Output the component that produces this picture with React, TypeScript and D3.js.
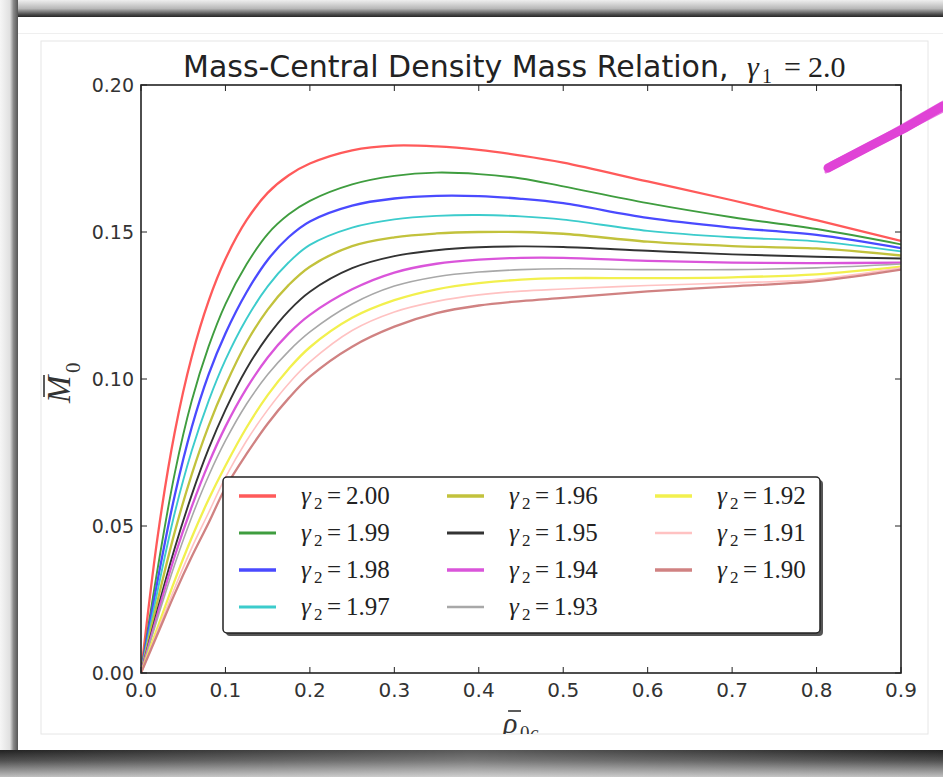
import React from "react";
import * as d3 from "d3";

// x values (rho_0c)
const rho = [0, 0.02, 0.04, 0.06, 0.08, 0.1, 0.125, 0.15, 0.175, 0.2, 0.25, 0.3, 0.35, 0.4, 0.45, 0.5, 0.6, 0.7, 0.8, 0.9];

const gamma2Labels = ["2.00", "1.99", "1.98", "1.97", "1.96", "1.95", "1.94", "1.93", "1.92", "1.91", "1.90"];

const m200 = [0, 0.047, 0.082, 0.1075, 0.1265, 0.1408, 0.154, 0.1633, 0.1693, 0.1733, 0.1778, 0.1794, 0.1791, 0.1779, 0.176, 0.1736, 0.1672, 0.1608, 0.154, 0.147];
const m199 = [0, 0.036, 0.068, 0.0925, 0.111, 0.1255, 0.139, 0.1493, 0.156, 0.1606, 0.1662, 0.1691, 0.1702, 0.1697, 0.1682, 0.1655, 0.1598, 0.155, 0.151, 0.1458];
const m198 = [0, 0.032, 0.0605, 0.0835, 0.1015, 0.1155, 0.1295, 0.1405, 0.1483, 0.1536, 0.159, 0.1614, 0.1623, 0.1622, 0.1613, 0.1598, 0.1548, 0.1515, 0.149, 0.1445];
const m197 = [0, 0.0285, 0.0545, 0.0755, 0.0925, 0.1065, 0.1205, 0.1315, 0.1397, 0.1456, 0.1515, 0.1543, 0.1555, 0.1558, 0.1553, 0.1542, 0.1504, 0.1482, 0.1468, 0.1434];
const m196 = [0, 0.025, 0.048, 0.0675, 0.084, 0.0978, 0.1124, 0.1236, 0.132, 0.1382, 0.1452, 0.1482, 0.1495, 0.15, 0.15, 0.1494, 0.1467, 0.1452, 0.1444, 0.142];
const m195 = [0, 0.022, 0.0425, 0.0605, 0.0762, 0.0895, 0.1035, 0.1145, 0.1232, 0.1297, 0.1377, 0.1418, 0.1438, 0.1448, 0.1451, 0.1449, 0.1436, 0.1424, 0.1416, 0.141];
const m194 = [0, 0.0205, 0.0398, 0.0565, 0.0712, 0.0838, 0.0968, 0.1073, 0.1155, 0.1218, 0.1305, 0.1362, 0.1392, 0.1406, 0.1412, 0.1412, 0.1402, 0.1396, 0.1394, 0.1396];
const m193 = [0, 0.019, 0.037, 0.053, 0.067, 0.079, 0.0915, 0.1015, 0.1095, 0.116, 0.1255, 0.1316, 0.1348, 0.1364, 0.1372, 0.1375, 0.1372, 0.1372, 0.1378, 0.1391];
const m192 = [0, 0.0158, 0.0315, 0.046, 0.059, 0.0705, 0.0835, 0.0945, 0.1035, 0.1108, 0.1208, 0.1268, 0.1305, 0.1326, 0.1338, 0.1343, 0.1343, 0.1346, 0.1356, 0.1382];
const m191 = [0, 0.0145, 0.029, 0.0425, 0.0545, 0.0665, 0.079, 0.0895, 0.0985, 0.1058, 0.1165, 0.1228, 0.1264, 0.1286, 0.1299, 0.1306, 0.1318, 0.1327, 0.1339, 0.1378];
const m190 = [0, 0.0135, 0.027, 0.0395, 0.051, 0.063, 0.0745, 0.0848, 0.0935, 0.1008, 0.111, 0.1178, 0.1224, 0.125, 0.1265, 0.1276, 0.1298, 0.1315, 0.1333, 0.1372];

const seriesValues = [m200, m199, m198, m197, m196, m195, m194, m193, m192, m191, m190];
const seriesColors = ["#ff5a5a", "#3f9d3f", "#4a4aff", "#3ccccc", "#c2c23c", "#333333", "#da55da", "#a8a8a8", "#f2f04e", "#ffc2c2", "#d08282"];
const seriesWidths = [2.3, 1.9, 2.3, 1.9, 2.3, 1.9, 2.3, 1.6, 2.3, 1.6, 2.3];

const xTicks = [0, 0.1, 0.2, 0.3, 0.4, 0.5, 0.6, 0.7, 0.8, 0.9];
const xTickLabels = ["0.0", "0.1", "0.2", "0.3", "0.4", "0.5", "0.6", "0.7", "0.8", "0.9"];
const yTicks = [0, 0.05, 0.1, 0.15, 0.2];
const yTickLabels = ["0.00", "0.05", "0.10", "0.15", "0.20"];

const SANS = "'DejaVu Sans', sans-serif";
const SERIF = "'Liberation Serif', 'DejaVu Serif', serif";

export default function App() {
  const W = 943;
  const H = 777;
  const left = 141, right = 901, top = 85, bottom = 673;
  const x = d3.scaleLinear().domain([0, 0.9]).range([left, right]);
  const y = d3.scaleLinear().domain([0, 0.2]).range([bottom, top]);
  const line = d3
    .line<number>()
    .x((_, i) => x(rho[i]))
    .y((d) => y(d))
    .curve(d3.curveCatmullRom.alpha(0.5));

  // legend layout
  const legX = 223, legY = 477, legW = 597, legH = 156;
  const colX = [239, 447, 655];
  const rowY0 = 496, rowStep = 37;

  return (
    <svg
      width={W}
      height={H}
      style={{ position: "absolute", left: 0, top: 0, display: "block" }}
      xmlns="http://www.w3.org/2000/svg"
    >
      <defs>
        <linearGradient id="topGrad" x1="0" y1="0" x2="0" y2="1">
          <stop offset="0%" stopColor="#eeeeee" />
          <stop offset="50%" stopColor="#b8b8b8" />
          <stop offset="85%" stopColor="#4a4a4a" />
          <stop offset="100%" stopColor="#262626" />
        </linearGradient>
        <linearGradient id="leftGrad" x1="0" y1="0" x2="1" y2="0">
          <stop offset="0%" stopColor="#f6f6f6" />
          <stop offset="55%" stopColor="#e0e0e0" />
          <stop offset="75%" stopColor="#8a8a8a" />
          <stop offset="100%" stopColor="#555" />
        </linearGradient>
        <linearGradient id="botGrad" x1="0" y1="0" x2="0" y2="1">
          <stop offset="0%" stopColor="#222" />
          <stop offset="40%" stopColor="#505050" />
          <stop offset="100%" stopColor="#c0c0c0" />
        </linearGradient>
        <linearGradient id="botHi" x1="0" y1="0" x2="1" y2="0">
          <stop offset="0%" stopColor="#fff" stopOpacity="0" />
          <stop offset="50%" stopColor="#fff" stopOpacity="0.25" />
          <stop offset="100%" stopColor="#fff" stopOpacity="0" />
        </linearGradient>
        <clipPath id="plotClip">
          <rect x={left} y={top} width={right - left} height={bottom - top} />
        </clipPath>
        <clipPath id="figClip">
          <rect x={41} y={41} width={887} height={693} />
        </clipPath>
      </defs>

      {/* photo frame */}
      <rect x={0} y={0} width={W} height={H} fill="#fff" />
      <rect x={0} y={0} width={W} height={17} fill="url(#topGrad)" />
      <rect x={0} y={0} width={18} height={H} fill="url(#leftGrad)" />
      <rect x={0} y={750} width={W} height={27} fill="url(#botGrad)" />
      <rect x={0} y={750} width={W} height={27} fill="url(#botHi)" />
      <rect x={18} y={17} width={W - 18} height={733} fill="#fff" />
      <line x1={18} x2={W} y1={33.5} y2={33.5} stroke="#efefef" strokeWidth={1} />
      <rect x={41} y={41} width={887} height={693} fill="none" stroke="#e6e6e6" strokeWidth={1} />

      <g clipPath="url(#figClip)">
        {/* title */}
        <text x={183} y={77} fontFamily={SANS} fontSize={30} fill="#222">
          Mass-Central Density Mass Relation,
        </text>
        <text y={77} fontFamily={SERIF} fontSize={30} fill="#222">
          <tspan x={747} fontStyle="italic">γ</tspan>
          <tspan x={762} dy={6} fontSize={20}>1</tspan>
          <tspan x={784} dy={-6}>=</tspan>
          <tspan x={808}>2.0</tspan>
        </text>

        {/* curves */}
        <g clipPath="url(#plotClip)">
          {seriesValues.map((vals, i) => (
            <path
              key={i}
              d={line(vals) || ""}
              fill="none"
              stroke={seriesColors[i]}
              strokeWidth={seriesWidths[i]}
              strokeLinejoin="round"
            />
          ))}
        </g>

        {/* axes frame */}
        <rect x={left} y={top} width={right - left} height={bottom - top} fill="none" stroke="#222" strokeWidth={1.6} />

        {/* x ticks */}
        {xTicks.map((t, i) => (
          <g key={"xt" + i}>
            <line x1={x(t)} x2={x(t)} y1={bottom} y2={bottom - 6} stroke="#222" strokeWidth={1} />
            <line x1={x(t)} x2={x(t)} y1={top} y2={top + 6} stroke="#222" strokeWidth={1} />
            <text x={x(t)} y={697} textAnchor="middle" fontFamily={SANS} fontSize={20} fill="#333">
              {xTickLabels[i]}
            </text>
          </g>
        ))}
        {/* y ticks */}
        {yTicks.map((t, i) => (
          <g key={"yt" + i}>
            <line x1={left} x2={left + 6} y1={y(t)} y2={y(t)} stroke="#222" strokeWidth={1} />
            <line x1={right} x2={right - 6} y1={y(t)} y2={y(t)} stroke="#222" strokeWidth={1} />
            <text x={134} y={y(t) + 7} textAnchor="end" fontFamily={SANS} fontSize={19} fill="#333">
              {yTickLabels[i]}
            </text>
          </g>
        ))}

        {/* y label */}
        <g transform="translate(60,383) rotate(-90)" fill="#333" fontFamily={SERIF}>
          <text x={-20} y={10} fontSize={33} fontStyle="italic">M</text>
          <line x1={-14} x2={8} y1={-16} y2={-16} stroke="#333" strokeWidth={1.6} />
          <text x={10} y={20} fontSize={21}>0</text>
        </g>

        {/* x label */}
        <g fill="#333" fontFamily={SERIF}>
          <text x={503} y={733} fontSize={30} fontStyle="italic">ρ</text>
          <line x1={508} x2={521} y1={711} y2={711} stroke="#333" strokeWidth={1.6} />
          <text x={520} y={739} fontSize={19}>0</text>
          <text x={530} y={739} fontSize={19} fontStyle="italic">c</text>
        </g>

        {/* legend */}
        <rect x={legX + 3} y={legY + 3} width={legW} height={legH} rx={4} fill="#555" />
        <rect x={legX} y={legY} width={legW} height={legH} rx={4} fill="#fff" stroke="#222" strokeWidth={1.5} />
        {gamma2Labels.map((lab, i) => {
          const col = Math.floor(i / 4);
          const row = i % 4;
          const lx = colX[col];
          const ly = rowY0 + row * rowStep;
          const tx = lx + 62;
          return (
            <g key={"lg" + i}>
              <line
                x1={lx}
                x2={lx + 37}
                y1={ly}
                y2={ly}
                stroke={seriesColors[i]}
                strokeWidth={seriesWidths[i] + 1}
              />
              <text y={ly + 8} fontFamily={SERIF} fontSize={25} fill="#222">
                <tspan x={tx} fontStyle="italic">γ</tspan>
                <tspan x={tx + 13} dy={5} fontSize={17}>2</tspan>
                <tspan x={tx + 26} dy={-5}>=</tspan>
                <tspan x={tx + 45}>{lab}</tspan>
              </text>
            </g>
          );
        })}
      </g>

      {/* pink marker stroke */}
      <g stroke="#e043d6" strokeLinecap="round" fill="none">
        <path d="M828,168 L870,146 L905,128 L943,106" strokeWidth={9} />
        <path d="M826,172 L868,150 L943,111" strokeWidth={3} strokeOpacity={0.7} />
        <path d="M831,163 L880,138 L943,102" strokeWidth={3} strokeOpacity={0.6} />
      </g>
    </svg>
  );
}
